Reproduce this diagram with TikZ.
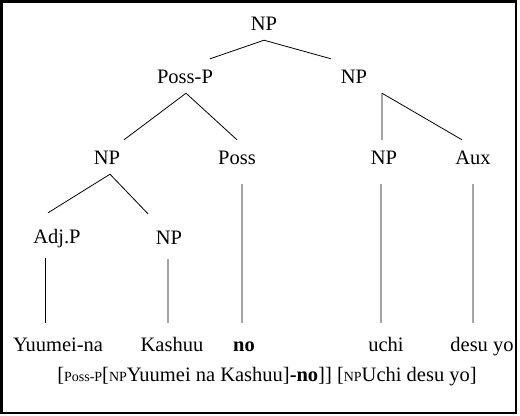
\documentclass[tikz,border=0pt]{standalone}
\usepackage{fontspec}
\setmainfont{Liberation Serif}
\usepackage{tikz}

\tikzset{
  cat/.style={anchor=base, inner xsep=0pt, inner ysep=10bp, text height=14bp, text depth=0pt, font=\fontsize{20.5bp}{24bp}\selectfont},
  low/.style={text height=20bp},
  word/.style={text height=18bp},
  branch/.style={line width=0.8bp},
  stem/.style={line width=0.8bp, shorten <=10bp}
}
\newcommand{\lbl}[1]{{\fontsize{14bp}{16bp}\selectfont #1}}

\begin{document}
\begin{tikzpicture}[x=1bp, y=-1bp]
               \useasboundingbox (0,0) rectangle (520,415);
               \draw[line width=2.2bp] (1.5,1.5) rectangle (516,413);
               % categories
               \node[cat] (top) at (264,30) {NP};
               \node[cat] (possp) at (185,83) {Poss-P};
               \node[cat] (np) at (354,83) {NP};
               \node[cat] (npa) at (107,164) {NP};
               \node[cat] (poss) at (237,164) {Poss};
               \node[cat] (npb) at (384,164) {NP};
               \node[cat] (aux) at (473,164) {Aux};
               \node[cat, low] (adjp) at (57,243) {Adj.P};
               \node[cat, low] (npc) at (169,244) {NP};
               % words
               \node[cat, word] (yuumei) at (58,351) {Yuumei-na};
               \node[cat, word] (kashuu) at (172,351) {Kashuu};
               \node[cat, word] (no) at (244,351) {\textbf{no}};
               \node[cat, word] (uchi) at (386,351) {uchi};
               \node[cat, word] (desu) at (482,351) {desu yo};
               % branches
               \draw[branch] (top.south) -- ([xshift=25bp]possp.north);
               \draw[branch] (top.south) -- ([xshift=-23bp]np.north);
               \draw[branch] ([xshift=1bp]possp.south) -- ([xshift=17bp]npa.north);
               \draw[branch] ([xshift=1bp]possp.south) -- (poss.north);
               \draw[branch] ([xshift=28bp]np.south) -- ([xshift=-2bp]npb.north);
               \draw[branch] ([xshift=28bp]np.south) -- ([xshift=-11bp]aux.north);
               \draw[branch] ([xshift=3bp]npa.south) -- ([xshift=-9bp]adjp.north);
               \draw[branch] ([xshift=3bp]npa.south) -- ([xshift=-21bp]npc.north);
               \draw[stem, shorten <=5bp] ([xshift=-12bp]adjp.south) -- ([xshift=-13bp]yuumei.north);
               \draw[stem, shorten <=5bp] ([xshift=-1bp]npc.south) -- ([xshift=-4bp]kashuu.north);
               \draw[stem] ([xshift=5bp]poss.south) -- ([xshift=-2bp]no.north);
               \draw[stem] ([xshift=-3bp]npb.south) -- ([xshift=-5bp]uchi.north);
               \draw[stem] (aux.south) -- ([xshift=-9bp]desu.north);
               % bracketing
               \node[cat] (gloss) at (267,381) {[\lbl{Poss-P}[\lbl{NP}Yuumei na Kashuu]\textbf{-no}]] [\lbl{NP}Uchi desu yo]};
           \end{tikzpicture}
\end{document}
